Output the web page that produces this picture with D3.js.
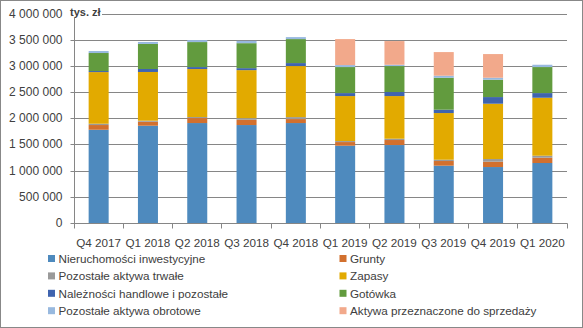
<!DOCTYPE html>
<html><head><meta charset="utf-8">
<script src="https://cdn.jsdelivr.net/npm/d3@7"></script>
<style>
html,body{margin:0;padding:0;background:#fff;}
svg{display:block;font-family:"Liberation Sans",Arial,sans-serif;}
</style></head>
<body><svg id="c" width="583" height="328"></svg>
<script>
const categories = ["Q4 2017","Q1 2018","Q2 2018","Q3 2018","Q4 2018","Q1 2019","Q2 2019","Q3 2019","Q4 2019","Q1 2020"];
const seriesNames = ["Nieruchomości inwestycyjne","Grunty","Pozostałe aktywa trwałe","Zapasy","Należności handlowe i pozostałe","Gotówka","Pozostałe aktywa obrotowe","Aktywa przeznaczone do sprzedaży"];
const seriesColors = ["#4e8abe","#d2702e","#9a9a9a","#e2aa00","#3f64af","#629b3e","#98b9df","#f2a98b"];
const nieruchomosci = [1790000,1867000,1918000,1880000,1918000,1485000,1498000,1104000,1078000,1155000];
const grunty        = [  90000,  76000,  95000, 100000,  76000,  70000,  96000,  89000, 102000, 101000];
const pozTrwale     = [  25000,  20000,  20000,  32000,  38000,  19000,  25000,  25000,  51000,  38000];
const zapasy        = [ 986000, 930000, 916000, 916000, 974000, 859000, 814000, 891000,1056000,1107000];
const naleznosci    = [  20000,  57000,  38000,  38000,  57000,  57000,  77000,  64000, 127000,  89000];
const gotowka       = [ 344000, 478000, 477000, 477000, 458000, 497000, 496000, 610000, 331000, 497000];
const pozObrotowe   = [  38000,  38000,  38000,  44000,  38000,  38000,  25000,  39000,  38000,  44000];
const doSprzedazy   = [      0,      0,      0,      0,      0, 496000, 452000, 451000, 452000,      0];
const yTicks = [0,500000,1000000,1500000,2000000,2500000,3000000,3500000,4000000];
const unitLabel = "tys. zł";

const seriesValues = [nieruchomosci,grunty,pozTrwale,zapasy,naleznosci,gotowka,pozObrotowe,doSprzedazy];
const rows = categories.map((c,i)=>{const o={cat:c}; seriesNames.forEach((s,k)=>o[s]=seriesValues[k][i]); return o;});
const stacked = d3.stack().keys(seriesNames)(rows);

const svg = d3.select("#c");
svg.append("rect").attr("x",0.5).attr("y",0.5).attr("width",582).attr("height",327).attr("fill","#fff").attr("stroke","#888");

const x0=74, x1=567, yTop=14, yBot=223.5;
const x = d3.scaleBand().domain(categories).range([x0,x1]).paddingInner(0.594).paddingOuter(0.297);
const y = d3.scaleLinear().domain([0,4000000]).range([yBot,yTop]);
const snap = v => Math.round(v-0.5)+0.5;
const fmt = v => d3.format(",")(v).replace(/,/g," ");

// gridlines
svg.append("g").selectAll("line").data(yTicks.slice(1)).join("line")
  .attr("x1",x0).attr("x2",x1).attr("y1",d=>snap(y(d))).attr("y2",d=>snap(y(d)))
  .attr("stroke","#868686").attr("stroke-width",1);

// bars
svg.append("g").selectAll("g").data(stacked).join("g").attr("fill",(d,i)=>seriesColors[i])
  .selectAll("rect").data(d=>d).join("rect")
  .attr("x",d=>x(d.data.cat)).attr("width",x.bandwidth())
  .attr("y",d=>y(d[1])).attr("height",d=>Math.max(0,y(d[0])-y(d[1])));

// y axis
const yAxis = d3.axisLeft(y).tickValues(yTicks).tickFormat(fmt).tickSize(4).tickPadding(8);
const ga = svg.append("g").attr("transform",`translate(${snap(x0)},0)`).call(yAxis);
ga.select(".domain").attr("stroke","#868686").attr("d",`M0,${snap(yTop)}V${snap(yBot)}`);
ga.selectAll(".tick").attr("transform",d=>`translate(0,${snap(y(d))})`);
ga.selectAll(".tick line").attr("stroke","#868686");
ga.selectAll(".tick text").attr("font-size","12px").attr("fill","#404040").attr("font-family","Liberation Sans, Arial, sans-serif");

// x axis
const bx = svg.append("g");
bx.append("line").attr("x1",x0).attr("x2",x1+0.5).attr("y1",snap(yBot)).attr("y2",snap(yBot)).attr("stroke","#868686");
const step = x.step();
bx.selectAll("line.t").data(d3.range(categories.length+1)).join("line").attr("class","t")
  .attr("x1",i=>snap(x0+i*step)).attr("x2",i=>snap(x0+i*step))
  .attr("y1",snap(yBot)).attr("y2",snap(yBot)+5).attr("stroke","#868686");
bx.selectAll("text").data(categories).join("text")
  .attr("x",d=>x(d)+x.bandwidth()/2).attr("y",246.5).attr("text-anchor","middle")
  .attr("font-size","11.7px").attr("fill","#404040").text(d=>d);

// unit label
const ul = svg.append("g");
ul.append("rect").attr("x",69).attr("y",5).attr("width",33).attr("height",13).attr("fill","#fff");
ul.append("text").attr("x",70).attr("y",16).attr("font-size","11px").attr("font-weight","bold").attr("fill","#404040").text(unitLabel);

// legend
const lg = svg.append("g");
seriesNames.forEach((s,i)=>{
  const col=i%2, row=Math.floor(i/2);
  const lx = col===0 ? 48 : 339.5, ly = 258.5 + row*17.4;
  lg.append("rect").attr("x",lx).attr("y",ly-3.5).attr("width",7).attr("height",7).attr("fill",seriesColors[i]);
  lg.append("text").attr("x",lx+10.5).attr("y",ly+4.2).attr("font-size","11.7px").attr("fill","#404040").text(s);
});
</script></body></html>
